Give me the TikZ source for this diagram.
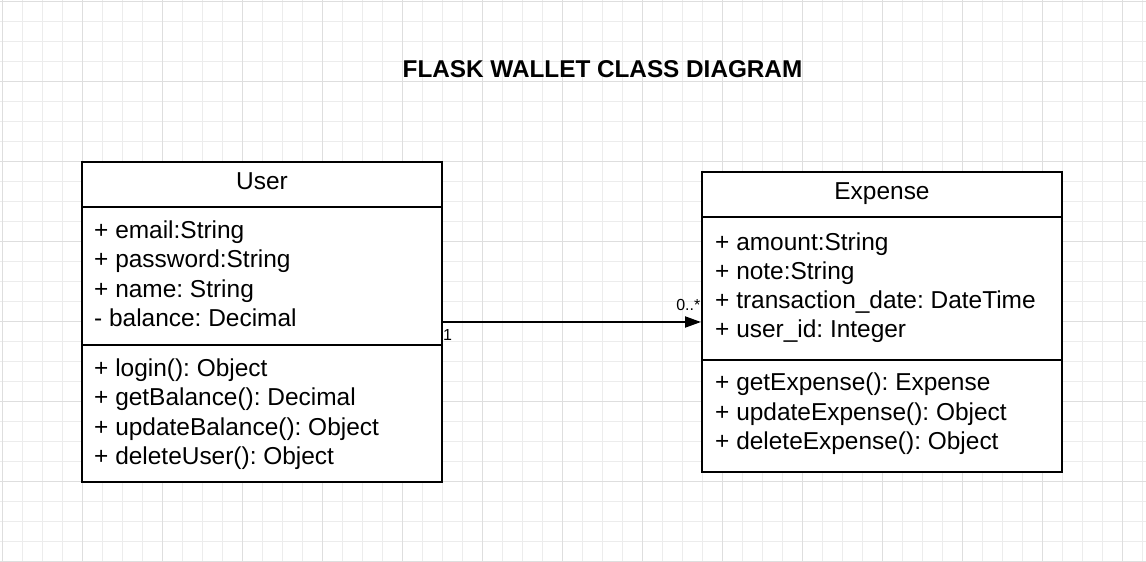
\documentclass[tikz,border=0pt]{standalone}
\usepackage{fontspec}
\setmainfont{Liberation Sans}
\usetikzlibrary{arrows.meta}
\frenchspacing
\begin{document}
\begin{tikzpicture}[x=1pt,y=-1pt,
  txt/.style={anchor=base west,inner sep=0pt,font=\fontsize{24.45}{29}\selectfont},
  ttl/.style={anchor=base,inner sep=0pt,font=\fontsize{24.45}{29}\selectfont},
  mult/.style={inner sep=0pt,font=\fontsize{16}{19}\selectfont},
  umlbox/.style={draw=black,line width=2pt,fill=white,inner sep=0pt,minimum width=360pt},
  sep/.style={draw=black,line width=2pt}]
\useasboundingbox (0,0) rectangle (1146,562);
\fill[white] (0,0) rectangle (1146,562);
% grid
\foreach \i in {0,...,57}{\draw[line width=1pt,color={rgb,255:red,236;green,236;blue,236}] ({2+20*\i},0) -- ({2+20*\i},562);}
\foreach \i in {0,...,28}{\draw[line width=1pt,color={rgb,255:red,236;green,236;blue,236}] (0,{1+20*\i}) -- (1146,{1+20*\i});}
\foreach \i in {0,...,14}{\draw[line width=1pt,color={rgb,255:red,222;green,222;blue,222}] ({2+80*\i},0) -- ({2+80*\i},562);}
\foreach \i in {0,...,7}{\draw[line width=1pt,color={rgb,255:red,222;green,222;blue,222}] (0,{1+80*\i}) -- (1146,{1+80*\i});}
% title
\node[anchor=base,inner sep=0pt,font=\bfseries\fontsize{24.3}{29}\selectfont] (title) at (602.5,77) {FLASK WALLET CLASS DIAGRAM};
% User
\node[umlbox,minimum height=320pt] (user) at (262,322) {};
\draw[sep] (user.west |- 0,207) -- (user.east |- 0,207);
\draw[sep] (user.west |- 0,345) -- (user.east |- 0,345);
\node[ttl] (usert) at (262,189.5) {User};
\node[txt] (ua1) at (94,238) {+ email:String};
\node[txt] (ua2) at (94,267.5) {+ password:String};
\node[txt] (ua3) at (94,297) {+ name: String};
\node[txt] (ua4) at (94,326) {- balance: Decimal};
\node[txt] (um1) at (94,376) {+ login(): Object};
\node[txt] (um2) at (94,405.5) {+ getBalance(): Decimal};
\node[txt] (um3) at (94,435) {+ updateBalance(): Object};
\node[txt] (um4) at (94,464.5) {+ deleteUser(): Object};
% Expense
\node[umlbox,minimum height=299.5pt] (expense) at (882,322) {};
\draw[sep] (expense.west |- 0,216.5) -- (expense.east |- 0,216.5);
\draw[sep] (expense.west |- 0,360) -- (expense.east |- 0,360);
\node[ttl] (expt) at (882,199.5) {Expense};
\node[txt] (ea1) at (715,250.5) {+ amount:String};
\node[txt] (ea2) at (715,279.5) {+ note:String};
\node[txt] (ea3) at (715,308.5) {+ transaction\_date: DateTime};
\node[txt] (ea4) at (715,337.5) {+ user\_id: Integer};
\node[txt] (em1) at (715,390.5) {+ getExpense(): Expense};
\node[txt] (em2) at (715,420) {+ updateExpense(): Object};
\node[txt] (em3) at (715,449.5) {+ deleteExpense(): Object};
% association
\draw[line width=2pt,-{Triangle[length=16pt,width=11pt]}] (user.east) -- (expense.west);
\node[mult,anchor=base west] (m1) at (443,340.5) {1};
\node[mult,anchor=base east] (m2) at (700.5,310) {0..*};
\end{tikzpicture}
\end{document}
